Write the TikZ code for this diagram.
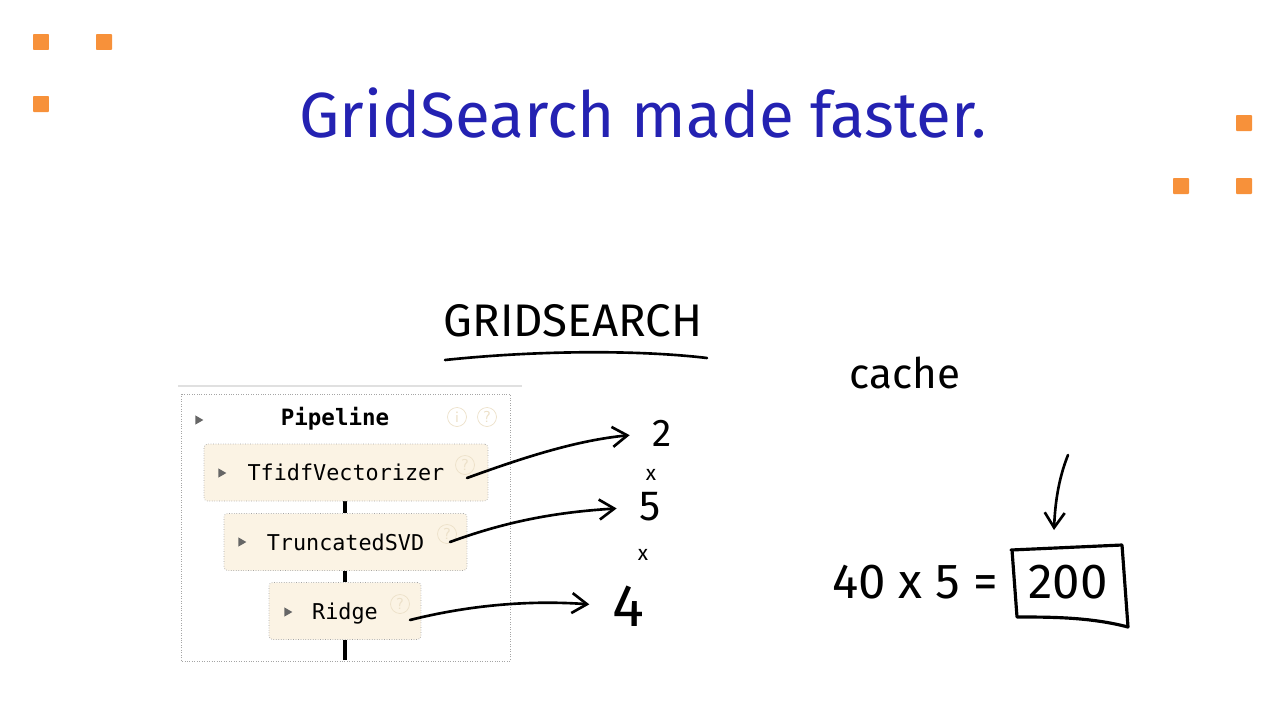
\documentclass[tikz,border=0pt]{standalone}
\usepackage{fontspec}
\setmainfont{Fira Sans}
\newfontfamily\codefont{DejaVu Sans Mono}
\newfontfamily\handfont{Fira Sans}
\usetikzlibrary{arrows.meta,shapes.geometric}
\definecolor{titleblue}{RGB}{36,34,178}
\definecolor{dotorange}{RGB}{247,145,58}
\definecolor{boxfill}{RGB}{251,243,228}
\definecolor{boxline}{RGB}{165,165,165}
\definecolor{iconline}{RGB}{236,224,200}
\tikzset{
  stepbox/.style={draw=boxline,densely dotted,fill=boxfill,rounded corners=2pt,
    minimum height=1.14cm,inner sep=0pt,text height=12pt,text depth=2.6pt,
    font=\codefont\fontsize{12.4}{14}\selectfont},
  tri/.style={isosceles triangle,fill=black!60,inner sep=0pt,minimum height=0.16cm,
    minimum width=0.18cm,isosceles triangle apex angle=60},
  qmark/.style={circle,draw=iconline,text=iconline,inner sep=0pt,minimum size=0.38cm,
    font=\sffamily\fontsize{9}{10}\selectfont},
  pen/.style={line width=1.5pt,line cap=round,line join=round},
  penarrow/.style={pen,-{Straight Barb[length=3mm,width=4mm]},shorten >=0.45cm},
  hand/.style={font=\handfont\fontsize{#1}{#1}\selectfont,inner sep=0pt},
  sq/.style={fill=dotorange,minimum size=0.32cm,inner sep=0pt,rounded corners=0.5pt}
}
\begin{document}
\begin{tikzpicture}[x=0.02cm,y=-0.02cm]
\useasboundingbox (0,0) rectangle (1280,720);

% corner squares
\node[sq] (sqa) at (41,42) {};
\node[sq] (sqb) at (104,42) {};
\node[sq] (sqc) at (41,104) {};
\node[sq] (sqd) at (1244,123) {};
\node[sq] (sqe) at (1181,186) {};
\node[sq] (sqf) at (1244,186) {};

\node[text=titleblue,font=\fontsize{36.3}{38}\selectfont] (title) at (643,113) {GridSearch made faster.};

% pipeline panel
\draw[black!12,line width=0.6pt] (178,386) -- (522,386);
\draw[boxline,densely dotted] (181,394) rectangle (510,661);
\node[font=\codefont\bfseries\fontsize{12.8}{14}\selectfont] (pipe) at (335,419) {Pipeline};
\node[tri] (pipetri) at (198,420) {};
\node[qmark] (info) at (457,417) {i};
\node[qmark] (help) at (487,417) {?};

\draw[line width=2pt] (345,501) -- (345,513) (345,571) -- (345,582) (345,640) -- (345,660);
\node[stepbox,minimum width=5.68cm] (tfidf) at (346,472.5) {TfidfVectorizer};
\node[stepbox,minimum width=4.86cm] (svd) at (345.5,542) {TruncatedSVD};
\node[stepbox,minimum width=3.04cm] (ridge) at (345,611) {Ridge};
\foreach \n/\x/\y in {tfidf/221/473,svd/241/542,ridge/287/612}
  \node[tri] (\n tri) at (\x,\y) {};
\foreach \n/\x/\y in {tfidf/465/465,svd/447/534,ridge/400/604}
  \node[qmark] (\n help) at (\x,\y) {?};

% handwritten part
\node[hand=26] (grid) at (573,321) {GRIDSEARCH};
\draw[pen] (445,360) .. controls (540,350) and (640,350) .. (707,358);

\node[hand=22] (two) at (662,433) {2};
\node[hand=12] (xa) at (651,475) {x};
\node[hand=24] (five) at (650,507) {5};
\node[hand=12] (xb) at (643,555) {x};
\node[hand=34] (four) at (628,606) {4};

\coordinate (tfidfpen) at (467,478);
\coordinate (svdpen) at (450,542);
\coordinate (ridgepen) at (410,620);
\draw[penarrow] (tfidfpen) .. controls (530,455) and (580,440) .. (two.west);
\draw[penarrow] (svdpen) .. controls (510,520) and (560,512) .. (five.west);
\draw[penarrow] (ridgepen) .. controls (470,605) and (530,600) .. (four.west);

\node[hand=24] (cache) at (905,373) {cache};
\node[hand=28] (prod) at (915,582) {40 x 5 =};
\node[hand=28] (res) at (1068,582) {200};
\draw[pen,line width=1.8pt] (1011,550) -- (1122,545) -- (1128,627) .. controls (1090,617) and (1050,617) .. (1017,617) -- (1012,550);
\coordinate (cachepen) at (1068,455);
\draw[pen,-{Straight Barb[length=3mm,width=4mm]}] (cachepen) .. controls (1058,480) and (1055,505) .. (1054,530);
\end{tikzpicture}
\end{document}
